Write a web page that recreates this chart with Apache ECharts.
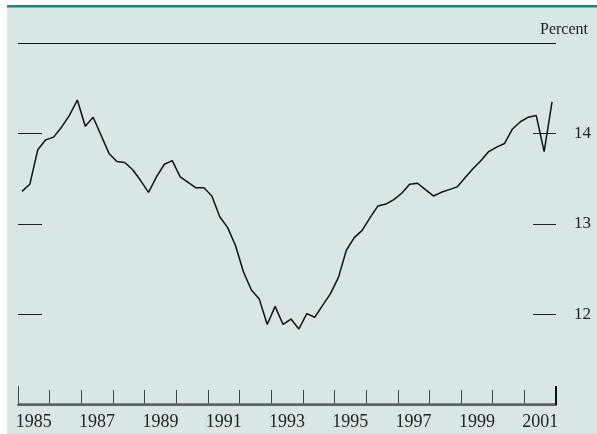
<!DOCTYPE html>
<html>
<head>
<meta charset="utf-8">
<title>Percent</title>
<script src="https://cdn.jsdelivr.net/npm/echarts@6/dist/echarts.min.js"></script>
<style>
  html, body { margin: 0; padding: 0; background: #fff; }
  #main { width: 597px; height: 434px; }
</style>
</head>
<body>
<div id="main"></div>
<script>
// quarterly values, 1985 Q1 .. 2001 Q4
const startYear = 1985;
const years = ['1985', '1986', '1987', '1988', '1989', '1990', '1991', '1992', '1993',
  '1994', '1995', '1996', '1997', '1998', '1999', '2000', '2001'];
const values = [
  13.36, 13.44, 13.82, 13.93,
  13.96, 14.07, 14.20, 14.37,
  14.08, 14.18, 13.98, 13.78,
  13.69, 13.68, 13.60, 13.48,
  13.35, 13.52, 13.66, 13.70,
  13.52, 13.46, 13.40, 13.40,
  13.31, 13.08, 12.96, 12.76,
  12.47, 12.27, 12.17, 11.89,
  12.09, 11.89, 11.95, 11.84,
  12.01, 11.97, 12.10, 12.23,
  12.41, 12.71, 12.85, 12.93,
  13.07, 13.20, 13.22, 13.27,
  13.34, 13.44, 13.45, 13.38,
  13.31, 13.35, 13.38, 13.41,
  13.51, 13.61, 13.70, 13.80,
  13.85, 13.89, 14.05, 14.13,
  14.18, 14.20, 13.80, 14.35
];
const yTicks = [12, 13, 14];

// each quarter sits in the middle of its quarter-year
const points = values.map((v, i) => [startYear + i / 4 + 0.125, v]);

const serif = '"Liberation Serif", "DejaVu Serif", serif';
const xMin = startYear;
const xMax = startYear + years.length;
const yMin = 11;
const yMax = 15;

const myChart = echarts.init(document.getElementById('main'));
myChart.setOption({
  backgroundColor: '#d8e7e3',
  animation: false,
  graphic: [
    { type: 'rect', left: 0, top: 0, shape: { width: 597, height: 5 }, style: { fill: '#fff' } },
    { type: 'rect', left: 0, top: 0, shape: { width: 7, height: 434 }, style: { fill: '#fff' } },
    { type: 'rect', left: 7, top: 5, shape: { width: 590, height: 2.5 }, style: { fill: '#13877c' } }
  ],
  title: {
    text: 'Percent',
    right: 4,
    top: 17,
    textStyle: { fontFamily: serif, fontSize: 16, fontWeight: 'normal', color: '#222' }
  },
  grid: { left: 18, right: 41, top: 43, bottom: 29 },
  xAxis: [
    {
      // time scale for the line
      type: 'value',
      min: xMin,
      max: xMax,
      show: false
    },
    {
      // year axis: ticks on year boundaries, labels mid-year
      type: 'category',
      data: years,
      boundaryGap: true,
      position: 'bottom',
      axisLine: { show: true, onZero: false, lineStyle: { color: '#5f6361', width: 2 } },
      axisTick: { show: true, inside: true, length: 15, interval: 0, lineStyle: { color: '#444', width: 1 } },
      axisLabel: { interval: 1, margin: 8, fontFamily: serif, fontSize: 18, color: '#222' },
      splitLine: { show: false }
    }
  ],
  yAxis: [
    {
      type: 'value',
      position: 'left',
      min: yMin,
      max: yMax,
      interval: 1,
      axisLine: { show: false },
      axisTick: { show: true, inside: true, length: 24, customValues: yTicks, lineStyle: { color: '#222' } },
      axisLabel: { show: false },
      splitLine: { show: false }
    },
    {
      type: 'value',
      position: 'right',
      min: yMin,
      max: yMax,
      interval: 1,
      axisLine: { show: false },
      axisTick: { show: true, inside: true, length: 23, customValues: yTicks, lineStyle: { color: '#222' } },
      axisLabel: { customValues: yTicks, margin: 18, fontFamily: serif, fontSize: 17, color: '#222' },
      splitLine: { show: false }
    }
  ],
  series: [{
    type: 'line',
    xAxisIndex: 0,
    yAxisIndex: 0,
    data: points,
    symbol: 'none',
    clip: false,
    lineStyle: { color: '#111', width: 1.5 },
    // top and bottom rules plus the longer marks at both ends of the time axis
    markLine: {
      silent: true,
      symbol: 'none',
      label: { show: false },
      data: [
        [{ coord: [xMin, yMax], lineStyle: { color: '#111', width: 1, type: 'solid' } }, { coord: [xMax, yMax] }],
        [{ coord: [xMin, yMin + 0.012], lineStyle: { color: '#5f6361', width: 2.5, type: 'solid' } }, { coord: [xMax, yMin + 0.012] }],
        [{ coord: [xMin, yMin], lineStyle: { color: '#444', width: 1, type: 'solid' } }, { coord: [xMin, yMin + 0.21] }],
        [{ coord: [xMax, yMin], lineStyle: { color: '#111', width: 2, type: 'solid' } }, { coord: [xMax, yMin + 0.21] }]
      ]
    }
  }]
});
</script>
</body>
</html>
